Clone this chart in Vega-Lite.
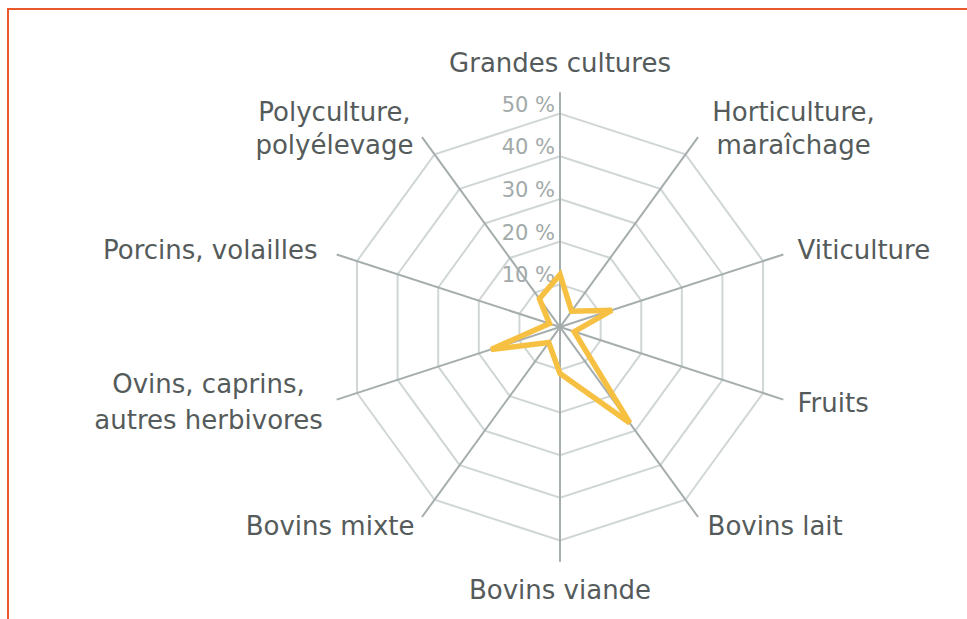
{
  "$schema": "https://vega.github.io/schema/vega-lite/v6.json",
  "width": 967,
  "height": 619,
  "autosize": {"type": "none"},
  "padding": {"left": 8, "top": 9, "right": 0, "bottom": 0},
  "background": "#ffffff",
  "config": {"view": {"stroke": "#e85a2c", "strokeWidth": 2}},
  "datasets": {
    "cats": [
      {"cat": "Grandes cultures", "label": "Grandes cultures", "value": 12.3},
      {"cat": "Horticulture, maraîchage", "label": "Horticulture,\nmaraîchage", "value": 4.6},
      {"cat": "Viticulture", "label": "Viticulture", "value": 12.8},
      {"cat": "Fruits", "label": "Fruits", "value": 3.5},
      {"cat": "Bovins lait", "label": "Bovins lait", "value": 27.8},
      {"cat": "Bovins viande", "label": "Bovins viande", "value": 10.9},
      {"cat": "Bovins mixte", "label": "Bovins mixte", "value": 4.5},
      {"cat": "Ovins, caprins, autres herbivores", "label": "Ovins, caprins,\nautres herbivores", "value": 17},
      {"cat": "Porcins, volailles", "label": "Porcins, volailles", "value": 2.6},
      {"cat": "Polyculture, polyélevage", "label": "Polyculture,\npolyélevage", "value": 8.2}
    ],
    "ticks": [
      {"lv": 10, "t": "10 %"},
      {"lv": 20, "t": "20 %"},
      {"lv": 30, "t": "30 %"},
      {"lv": 40, "t": "40 %"},
      {"lv": 50, "t": "50 %"}
    ]
  },
  "encoding": {
    "x": {"field": "px", "type": "quantitative", "scale": {"domain": [-129.3, 97.2], "nice": false, "zero": false}, "axis": null},
    "y": {"field": "py", "type": "quantitative", "scale": {"domain": [-70.5, 74.5], "nice": false, "zero": false}, "axis": null}
  },
  "layer": [
    {
      "data": {"name": "cats"},
      "transform": [
        {"window": [{"op": "row_number", "as": "i"}]},
        {"calculate": "(datum.i-1)*PI/5", "as": "a"},
        {"calculate": "[10,20,30,40,50]", "as": "lv"},
        {"flatten": ["lv"]},
        {"calculate": "datum.lv*sin(datum.a)", "as": "px"},
        {"calculate": "datum.lv*cos(datum.a)", "as": "py"}
      ],
      "mark": {"type": "line", "interpolate": "linear-closed", "stroke": "#d0d6d6", "strokeWidth": 2},
      "encoding": {
        "detail": {"field": "lv", "type": "nominal"},
        "order": {"field": "i", "type": "quantitative"}
      }
    },
    {
      "data": {"name": "cats"},
      "transform": [
        {"window": [{"op": "row_number", "as": "i"}]},
        {"calculate": "(datum.i-1)*PI/5", "as": "a"},
        {"calculate": "55*sin(datum.a)", "as": "px"},
        {"calculate": "55*cos(datum.a)", "as": "py"}
      ],
      "mark": {"type": "rule", "stroke": "#a5adad", "strokeWidth": 2},
      "encoding": {
        "x2": {"datum": 0},
        "y2": {"datum": 0}
      }
    },
    {
      "data": {"name": "ticks"},
      "transform": [
        {"calculate": "0", "as": "px"},
        {"calculate": "datum.lv", "as": "py"}
      ],
      "mark": {"type": "text", "align": "right", "baseline": "middle", "dx": -5, "dy": -8, "font": "DejaVu Sans", "fontSize": 21, "color": "#a2aaaa"},
      "encoding": {"text": {"field": "t", "type": "nominal"}}
    },
    {
      "data": {"name": "cats"},
      "transform": [
        {"window": [{"op": "row_number", "as": "i"}]},
        {"calculate": "(datum.i-1)*PI/5", "as": "a"},
        {"calculate": "datum.value*sin(datum.a)", "as": "px"},
        {"calculate": "datum.value*cos(datum.a)", "as": "py"}
      ],
      "mark": {"type": "line", "interpolate": "linear-closed", "stroke": "#f6c142", "strokeWidth": 5.5},
      "encoding": {"order": {"field": "i", "type": "quantitative"}}
    },
    {
      "data": {"name": "cats"},
      "transform": [
        {"window": [{"op": "row_number", "as": "i"}]},
        {"calculate": "(datum.i-1)*PI/5", "as": "a"},
        {"calculate": "58*sin(datum.a)", "as": "px"},
        {"calculate": "58*cos(datum.a)", "as": "py"}
      ],
      "encoding": {"text": {"field": "label", "type": "nominal"}},
      "layer": [
        {
          "transform": [{"filter": {"field": "cat", "oneOf": ["Viticulture", "Fruits", "Bovins lait"]}}],
          "mark": {"type": "text", "align": "left", "baseline": "middle", "dx": 2, "font": "DejaVu Sans", "fontSize": 26, "color": "#555b5b"}
        },
        {
          "transform": [{"filter": {"field": "cat", "equal": "Porcins, volailles"}}],
          "mark": {"type": "text", "align": "right", "baseline": "middle", "dx": -7, "font": "DejaVu Sans", "fontSize": 26, "color": "#555b5b"}
        },
        {
          "transform": [{"filter": {"field": "cat", "equal": "Bovins mixte"}}],
          "mark": {"type": "text", "align": "right", "baseline": "middle", "dx": 0, "font": "DejaVu Sans", "fontSize": 26, "color": "#555b5b"}
        },
        {
          "transform": [{"filter": {"field": "cat", "equal": "Ovins, caprins, autres herbivores"}}],
          "mark": {"type": "text", "align": "center", "baseline": "middle", "dx": -116, "dy": -19, "font": "DejaVu Sans", "fontSize": 26, "color": "#555b5b", "lineBreak": "\n", "lineHeight": 36}
        },
        {
          "transform": [{"filter": {"field": "cat", "equal": "Grandes cultures"}}],
          "mark": {"type": "text", "align": "center", "baseline": "middle", "dy": -15, "font": "DejaVu Sans", "fontSize": 26, "color": "#555b5b"}
        },
        {
          "transform": [{"filter": {"field": "cat", "equal": "Bovins viande"}}],
          "mark": {"type": "text", "align": "center", "baseline": "middle", "dy": 16, "font": "DejaVu Sans", "fontSize": 26, "color": "#555b5b"}
        },
        {
          "transform": [{"filter": {"field": "cat", "equal": "Horticulture, maraîchage"}}],
          "mark": {"type": "text", "align": "center", "baseline": "middle", "dx": 88, "dy": -14, "font": "DejaVu Sans", "fontSize": 26, "color": "#555b5b", "lineBreak": "\n", "lineHeight": 33}
        },
        {
          "transform": [{"filter": {"field": "cat", "equal": "Polyculture, polyélevage"}}],
          "mark": {"type": "text", "align": "center", "baseline": "middle", "dx": -80, "dy": -14, "font": "DejaVu Sans", "fontSize": 26, "color": "#555b5b", "lineBreak": "\n", "lineHeight": 33}
        }
      ]
    }
  ]
}
